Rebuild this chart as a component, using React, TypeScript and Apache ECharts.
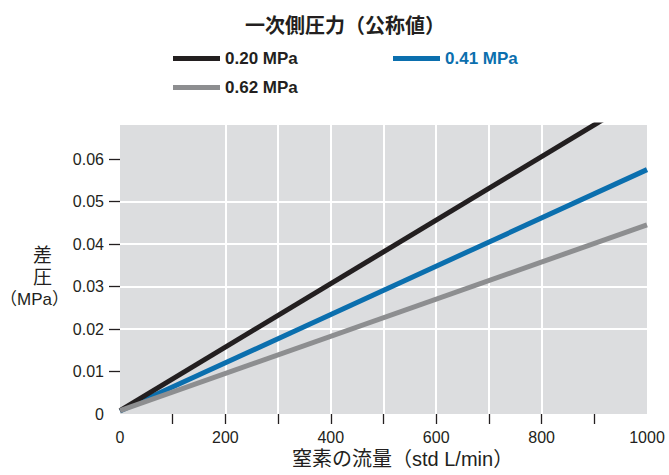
import React, { useEffect, useRef } from "react";
import * as echarts from "echarts";

// Flow of nitrogen (std L/min)
const flow = [0, 1000];
// Differential pressure (MPa) for each primary pressure
const dp020 = [0.0008, 0.0755];
const dp041 = [0.0007, 0.0575];
const dp062 = [0.0008, 0.0445];

const seriesNames = ["0.20 MPa", "0.41 MPa", "0.62 MPa"];
const xTickValues = [100, 200, 300, 400, 500, 600, 700, 800, 900];
const xLabelValues = [0, 200, 400, 600, 800, 1000];
const yTickValues = [0.01, 0.02, 0.03, 0.04, 0.05, 0.06];
const yLabelValues = [0, 0.01, 0.02, 0.03, 0.04, 0.05, 0.06];

const titleText = "一次側圧力（公称値）";
const xName = "窒素の流量（std L/min）";

const FONT = "'Liberation Sans', Arial, 'Noto Sans CJK JP', sans-serif";
const DARK = "#231f20";
const BLUE = "#0b6fae";
const GRAY = "#8d8e90";

function pairs(ys: number[]) {
  return flow.map((x, i) => [x, ys[i]]);
}

export default function App() {
  const ref = useRef<HTMLDivElement>(null);
  useEffect(() => {
    if (!ref.current) return;
    const chart = echarts.init(ref.current, null, { renderer: "svg" });
    const legendText = {
      fontFamily: FONT,
      fontWeight: "bold" as const,
      fontSize: 17,
      lineHeight: 19,
    };
    chart.setOption({
      animation: false,
      backgroundColor: "#ffffff",
      title: {
        text: titleText,
        left: 240,
        top: 11,
        textStyle: {
          fontFamily: FONT,
          fontWeight: "bold",
          fontSize: 20,
          color: DARK,
        },
      },
      legend: [
        {
          left: 168,
          top: 44,
          orient: "vertical",
          data: [seriesNames[0], seriesNames[2]],
          icon: "rect",
          itemWidth: 47,
          itemHeight: 5,
          itemGap: 10,
          selectedMode: false,
          textStyle: { ...legendText, color: DARK },
        },
        {
          left: 388,
          top: 44,
          orient: "vertical",
          data: [seriesNames[1]],
          icon: "rect",
          itemWidth: 47,
          itemHeight: 5,
          selectedMode: false,
          textStyle: { ...legendText, color: BLUE },
        },
      ],
      grid: {
        left: 120,
        right: 22,
        top: 125,
        bottom: 61,
        show: true,
        backgroundColor: "#dcdddf",
        borderWidth: 0,
      },
      xAxis: {
        type: "value",
        min: 0,
        max: 1000,
        interval: 100,
        offset: 4,
        axisLine: { show: false },
        axisTick: {
          show: true,
          length: 10,
          customValues: xTickValues,
          lineStyle: { color: DARK, width: 1.3 },
        },
        axisLabel: {
          customValues: xLabelValues,
          margin: 11,
          fontFamily: FONT,
          fontSize: 16,
          color: DARK,
          formatter: (v: number) => String(v),
        },
        splitLine: {
          show: true,
          showMinLine: false,
          showMaxLine: false,
          lineStyle: { color: "#ffffff", width: 2 },
        },
      },
      yAxis: {
        type: "value",
        min: 0,
        max: 0.068,
        interval: 0.01,
        offset: 2,
        axisLine: { show: false },
        axisTick: {
          show: true,
          length: 11,
          customValues: yTickValues,
          lineStyle: { color: DARK, width: 1.3 },
        },
        axisLabel: {
          customValues: yLabelValues,
          margin: 14,
          fontFamily: FONT,
          fontSize: 16,
          color: DARK,
          formatter: (v: number) => (Math.abs(v) < 1e-9 ? "0" : v.toFixed(2)),
        },
        splitLine: {
          show: true,
          showMinLine: false,
          showMaxLine: false,
          lineStyle: { color: "#ffffff", width: 2 },
        },
      },
      graphic: [
        {
          type: "text",
          left: 33,
          top: 244,
          style: {
            text: "差\n圧",
            fontFamily: FONT,
            fontSize: 19,
            lineHeight: 22,
            fill: DARK,
          },
        },
        {
          type: "text",
          left: 0,
          top: 291,
          style: {
            text: "（MPa）",
            fontFamily: FONT,
            fontSize: 17,
            fill: DARK,
          },
        },
        {
          type: "text",
          left: 292,
          top: 449,
          style: {
            text: xName,
            fontFamily: FONT,
            fontSize: 20,
            fill: DARK,
          },
        },
      ],
      series: [
        {
          name: seriesNames[1],
          type: "line",
          data: pairs(dp041),
          showSymbol: false,
          clip: true,
          color: BLUE,
          lineStyle: { color: BLUE, width: 5 },
        },
        {
          name: seriesNames[0],
          type: "line",
          data: pairs(dp020),
          showSymbol: false,
          clip: true,
          color: DARK,
          lineStyle: { color: DARK, width: 5 },
        },
        {
          name: seriesNames[2],
          type: "line",
          data: pairs(dp062),
          showSymbol: false,
          clip: true,
          color: GRAY,
          lineStyle: { color: GRAY, width: 5 },
        },
      ],
    });
    return () => chart.dispose();
  }, []);
  return (
    <div
      ref={ref}
      style={{ position: "fixed", left: 0, top: 0, width: 669, height: 475 }}
    />
  );
}
